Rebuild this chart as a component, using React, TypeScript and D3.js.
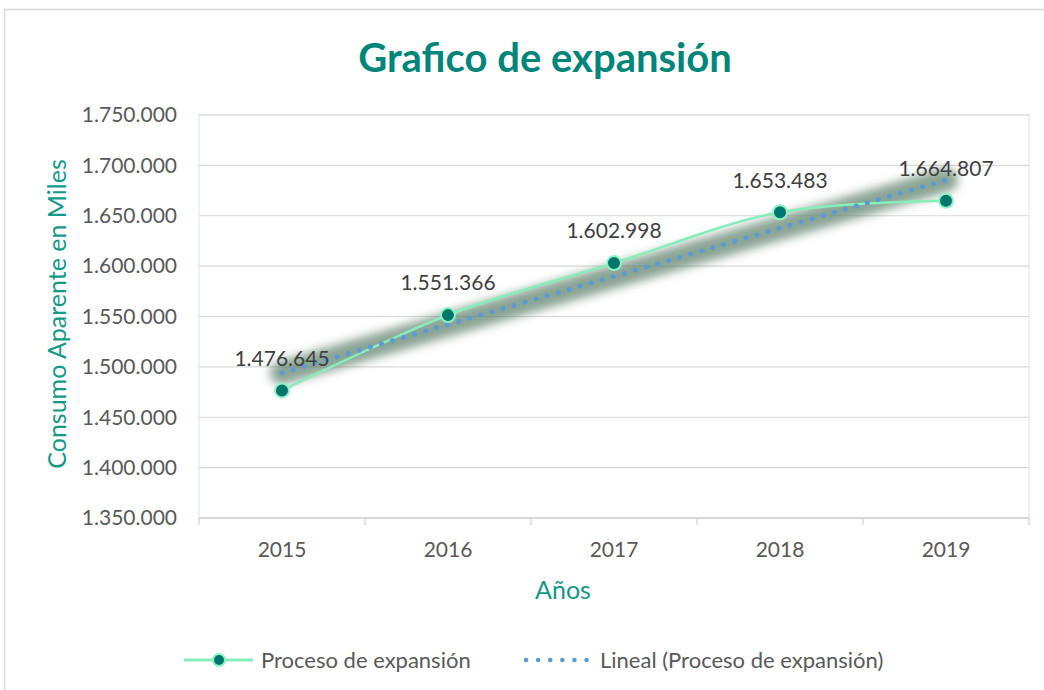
import React, { useRef, useEffect } from 'react';
import * as d3 from 'd3';

const years = ['2015', '2016', '2017', '2018', '2019'];
const consumo = [1476645, 1551366, 1602998, 1653483, 1664807];
const yTicks = [1350000, 1400000, 1450000, 1500000, 1550000, 1600000, 1650000, 1700000, 1750000];

const FONT = 'Lato, "Open Sans", sans-serif';

function fmt(v: number) {
  return d3.format(',')(v).replace(/,/g, '.');
}

export default function App() {
  const ref = useRef<SVGSVGElement>(null);

  useEffect(() => {
    const svg = d3.select(ref.current);
    svg.selectAll('*').remove();

    const left = 199, right = 1029, top = 115, bottom = 518;

    const x = d3.scaleBand().domain(years).range([left, right]);
    const y = d3.scaleLinear().domain([1350000, 1750000]).range([bottom, top]);
    const cx = (d: string) => (x(d) as number) + x.bandwidth() / 2;

    // outer chart border
    svg.append('rect')
      .attr('x', 4.5).attr('y', 9.5).attr('width', 1100).attr('height', 800)
      .attr('fill', 'white').attr('stroke', '#d9d9d9').attr('stroke-width', 1.5);

    // title
    svg.append('text')
      .attr('x', 545).attr('y', 72)
      .attr('text-anchor', 'middle')
      .attr('font-family', FONT).attr('font-weight', 'bold').attr('font-size', 40)
      .attr('fill', '#00857a')
      .text('Grafico de expansión');

    // plot area border
    svg.append('rect')
      .attr('x', left).attr('y', top).attr('width', right - left).attr('height', bottom - top)
      .attr('fill', 'none').attr('stroke', '#e3eefa').attr('stroke-width', 1.5);

    // gridlines
    svg.append('g').selectAll('line').data(yTicks.slice(1)).enter().append('line')
      .attr('x1', left).attr('x2', right)
      .attr('y1', d => y(d)).attr('y2', d => y(d))
      .attr('stroke', '#d9d9d9').attr('stroke-width', 1.2);

    // bottom axis
    svg.append('line')
      .attr('x1', left).attr('x2', right).attr('y1', bottom).attr('y2', bottom)
      .attr('stroke', '#d0d0d0').attr('stroke-width', 1.5);
    const bounds = years.map(d => x(d) as number).concat([right]);
    svg.append('g').selectAll('line').data(bounds).enter().append('line')
      .attr('x1', d => d).attr('x2', d => d).attr('y1', bottom).attr('y2', bottom + 7)
      .attr('stroke', '#d0d0d0').attr('stroke-width', 1.2);

    // y tick labels
    svg.append('g').selectAll('text').data(yTicks).enter().append('text')
      .attr('x', 177).attr('y', d => y(d)).attr('dy', '0.35em')
      .attr('text-anchor', 'end')
      .attr('font-family', FONT).attr('font-size', 21).attr('fill', '#595959')
      .text(d => fmt(d));

    // x tick labels
    svg.append('g').selectAll('text').data(years).enter().append('text')
      .attr('x', d => cx(d)).attr('y', 557)
      .attr('text-anchor', 'middle')
      .attr('font-family', FONT).attr('font-size', 21).attr('fill', '#595959')
      .text(d => d);

    // axis titles
    svg.append('text')
      .attr('transform', 'translate(66,314) rotate(-90)')
      .attr('text-anchor', 'middle')
      .attr('font-family', FONT).attr('font-size', 25).attr('fill', '#12998a')
      .text('Consumo Aparente en Miles');
    svg.append('text')
      .attr('x', 563).attr('y', 599)
      .attr('text-anchor', 'middle')
      .attr('font-family', FONT).attr('font-size', 25).attr('fill', '#12998a')
      .text('Años');

    // linear trend (least squares)
    const idx = consumo.map((_, i) => i);
    const mx = d3.mean(idx) as number;
    const my = d3.mean(consumo) as number;
    const slope = d3.sum(idx, i => (i - mx) * (consumo[i] - my)) / d3.sum(idx, i => (i - mx) ** 2);
    const trend = idx.map(i => my + slope * (i - mx));
    const trendPts: [number, number][] = [
      [cx(years[0]), y(trend[0])],
      [cx(years[years.length - 1]), y(trend[trend.length - 1])],
    ];

    const defs = svg.append('defs');
    const f = defs.append('filter').attr('id', 'glow')
      .attr('x', '-20%').attr('y', '-60%').attr('width', '140%').attr('height', '220%');
    f.append('feGaussianBlur').attr('stdDeviation', 5);

    svg.append('path')
      .attr('d', d3.line()(trendPts))
      .attr('stroke', '#5a7d66').attr('stroke-opacity', 0.7)
      .attr('stroke-width', 24).attr('stroke-linecap', 'round')
      .attr('fill', 'none').attr('filter', 'url(#glow)');

    // series line
    const line = d3.line<number>()
      .x((_, i) => cx(years[i]))
      .y(d => y(d))
      .curve(d3.curveCatmullRom.alpha(0.5));
    svg.append('path')
      .attr('d', line(consumo))
      .attr('fill', 'none').attr('stroke', '#86eebb').attr('stroke-width', 2.5);

    // trend dots
    svg.append('path')
      .attr('d', d3.line()(trendPts))
      .attr('fill', 'none').attr('stroke', '#5b9bd5').attr('stroke-width', 5)
      .attr('stroke-linecap', 'round').attr('stroke-dasharray', '0.1 11.4');

    // markers
    svg.append('g').selectAll('circle').data(consumo).enter().append('circle')
      .attr('cx', (_, i) => cx(years[i])).attr('cy', d => y(d)).attr('r', 7)
      .attr('fill', '#00776d').attr('stroke', '#8ff2c6').attr('stroke-width', 2);

    // data labels
    svg.append('g').selectAll('text').data(consumo).enter().append('text')
      .attr('x', (_, i) => cx(years[i])).attr('y', d => y(d) - 32).attr('dy', '0.35em')
      .attr('text-anchor', 'middle')
      .attr('font-family', FONT).attr('font-size', 21).attr('fill', '#404040')
      .text(d => fmt(d));

    // legend
    const lg = svg.append('g').attr('transform', 'translate(0,660)');
    lg.append('line').attr('x1', 184).attr('x2', 253).attr('y1', 0).attr('y2', 0)
      .attr('stroke', '#86eebb').attr('stroke-width', 3);
    lg.append('circle').attr('cx', 219).attr('cy', 0).attr('r', 6)
      .attr('fill', '#00776d').attr('stroke', '#8ff2c6').attr('stroke-width', 2);
    lg.append('text').attr('x', 261).attr('y', 0).attr('dy', '0.35em')
      .attr('font-family', FONT).attr('font-size', 22).attr('fill', '#595959')
      .text('Proceso de expansión');
    lg.append('line').attr('x1', 526).attr('x2', 587).attr('y1', 0).attr('y2', 0)
      .attr('stroke', '#5b9bd5').attr('stroke-width', 4.5)
      .attr('stroke-linecap', 'round').attr('stroke-dasharray', '0.1 12');
    lg.append('text').attr('x', 600).attr('y', 0).attr('dy', '0.35em')
      .attr('font-family', FONT).attr('font-size', 22).attr('fill', '#595959')
      .text('Lineal (Proceso de expansión)');
  }, []);

  return (
    <svg ref={ref} width={1044} height={690}
      style={{ position: 'absolute', left: 0, top: 0, background: 'white' }} />
  );
}
